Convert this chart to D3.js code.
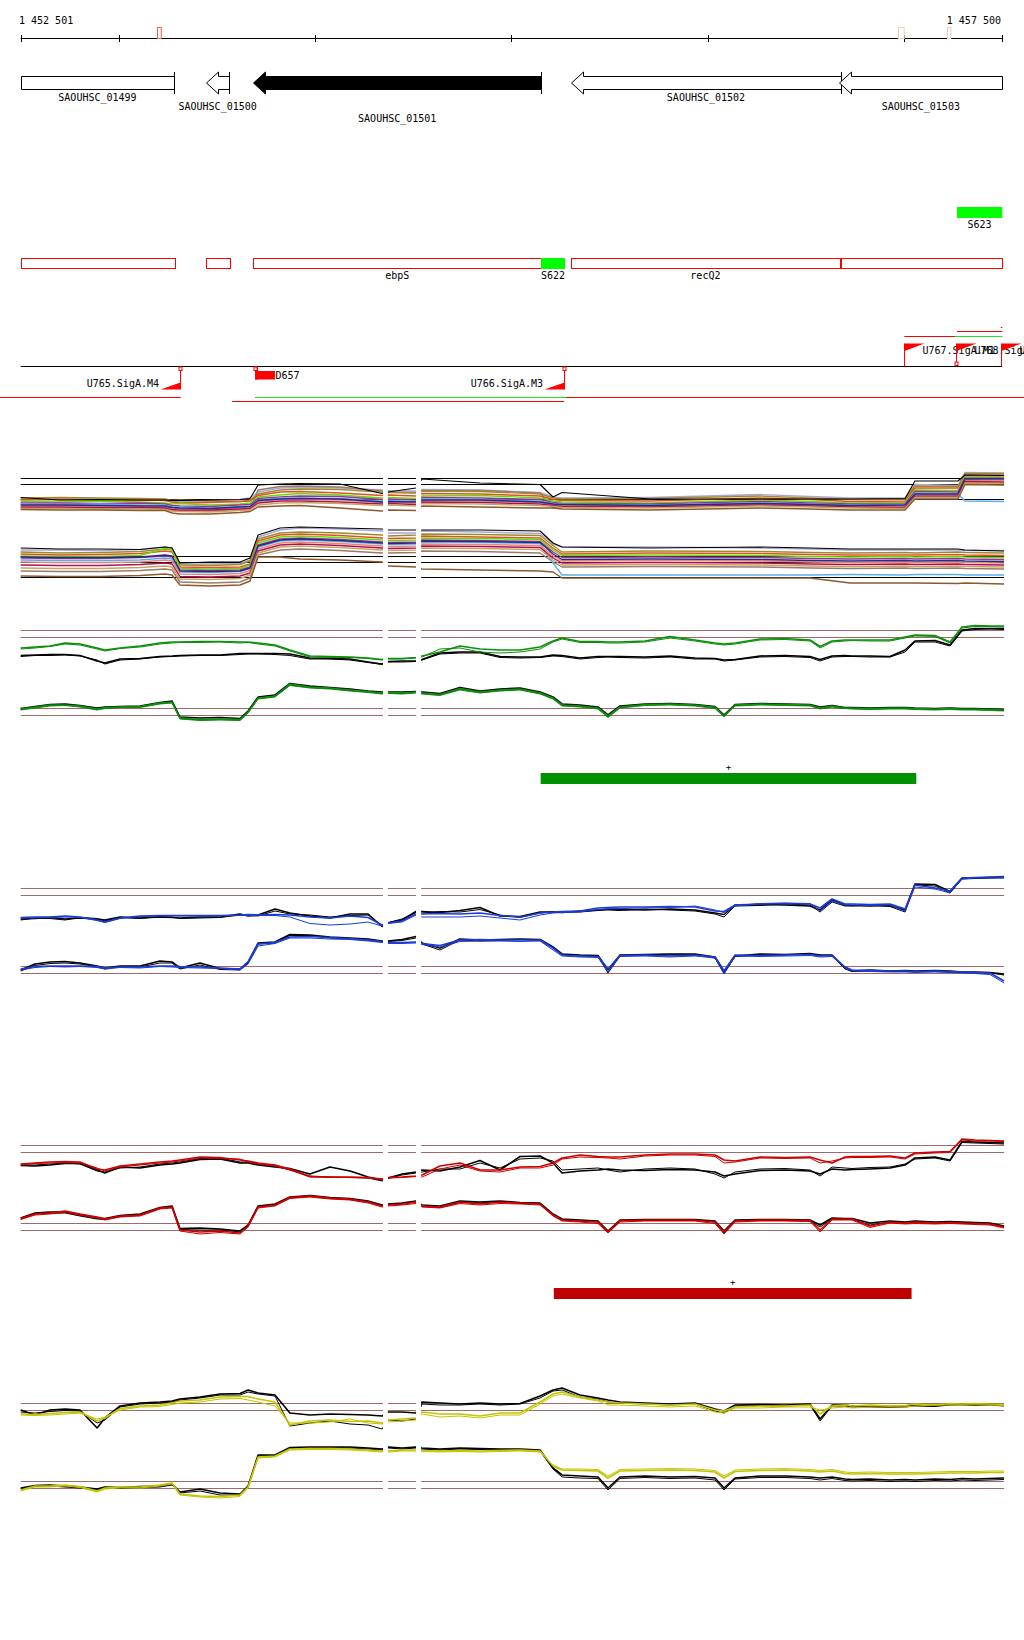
<!DOCTYPE html>
<html><head><meta charset="utf-8">
<script src="https://cdn.jsdelivr.net/npm/d3@7"></script>
<style>
body{margin:0;background:#fff}
svg{display:block}
text{font-family:"DejaVu Sans Mono",monospace;font-size:10px;fill:#000}
</style>
</head><body>
<svg id="chart" width="1024" height="1640"></svg>
<script>
// ---- region ----
const regionStart = 1452501, regionEnd = 1457500;
const rulerTicks = [1453000, 1454000, 1455000, 1456000, 1457000];
const rulerMarks = [
  {start: 1453197, end: 1453216, color: "#f0604a"},
  {start: 1456970, end: 1456999, color: "#f6c9bf"},
  {start: 1457217, end: 1457234, color: "#f6c9bf"}
];

// ---- annotated genes (all on the reverse strand) ----
const genes = [
  {name: "SAOUHSC_01499", start: 1452200, end: 1453283, fill: "#fff", labelRow: 0},
  {name: "SAOUHSC_01500", start: 1453445, end: 1453563, fill: "#fff", labelRow: 1},
  {name: "SAOUHSC_01501", start: 1453686, end: 1455151, fill: "#000", labelRow: 2},
  {name: "SAOUHSC_01502", start: 1455302, end: 1456680, fill: "#fff", labelRow: 0},
  {name: "SAOUHSC_01503", start: 1456670, end: 1457900, fill: "#fff", labelRow: 1}
];

// ---- transcription units and segments ----
const units = [
  {name: "", start: 1452200, end: 1453285},
  {name: "", start: 1453446, end: 1453565},
  {name: "ebpS", start: 1453686, end: 1455151},
  {name: "recQ2", start: 1455304, end: 1456672},
  {name: "", start: 1456680, end: 1457900}
];
const segments = [
  {name: "S622", start: 1455151, end: 1455273, row: 0},
  {name: "S623", start: 1457269, end: 1457900, row: 1}
];

// ---- promoters / transcription start sites ----
const sites = [
  {name: "U765.SigA.M4", pos: 1453312, strand: -1, kind: "flag", marker: true},
  {name: "D657", pos: 1453694, strand: -1, kind: "block", marker: true},
  {name: "U766.SigA.M3", pos: 1455269, strand: -1, kind: "flag", marker: true},
  {name: "U767.SigA.M1", pos: 1457001, strand: 1, kind: "flag", marker: false},
  {name: "U768.SigA.M1", pos: 1457264, strand: 1, kind: "flag", marker: true},
  {name: "U769.SigA.M2", pos: 1457492, strand: 1, kind: "flag", marker: false}
];
const transcripts = [
  {start: 1452396, end: 1453316, strand: -1, lane: 0, color: "#ff0000"},
  {start: 1453694, end: 1455278, strand: -1, lane: 0, color: "#22dd22"},
  {start: 1453577, end: 1455269, strand: -1, lane: 1, color: "#ff0000"},
  {start: 1455278, end: 1457611, strand: -1, lane: 0, color: "#ff0000"},
  {start: 1457001, end: 1457259, strand: 1, lane: 0, color: "#ff0000"},
  {start: 1457259, end: 1457500, strand: 1, lane: 0, color: "#22dd22"},
  {start: 1457269, end: 1457500, strand: 1, lane: 1, color: "#ff0000"},
  {start: 1457492, end: 1457500, strand: 1, lane: 2, color: "#ff0000"}
];

// ---- condition-specific up-regulated segments ----
const upSegGreen = {start: 1455149, end: 1457062, strand: "+"};
const upSegRed = {start: 1455216, end: 1457038, strand: "+"};

// ---- tiling gaps in the expression tracks ----
const tileGaps = [[1454346, 1454371], [1454514, 1454540]];

// ---- probe positions ----
const probePos = [1452501,1452574,1452650,1452727,1452803,1452890,1452930,1453007,1453109,1453210,
  1453272,1453312,1453414,1453516,1453618,1453659,1453710,1453796,1453872,1453974,
  1454076,1454178,1454270,1454341,1454372,1454443,1454514,1454545,1454636,1454738,
  1454840,1454942,1455044,1455146,1455212,1455258,1455349,1455441,1455492,1455553,
  1455680,1455808,1455935,1456037,1456083,1456139,1456266,1456393,1456521,1456572,
  1456633,1456699,1456735,1456826,1456928,1457005,1457055,1457157,1457234,1457295,
  1457361,1457437,1457509];
const probePosAll = [1452501,1452701,1452905,1453109,1453236,1453272,1453312,1453465,1453618,1453669,
  1453710,1453822,1453923,1454127,1454341,1454372,1454514,1454545,1454840,1455146,
  1455212,1455258,1455706,1456266,1456521,1456724,1457005,1457055,1457274,1457310,1457509];

// ---- thresholds (log2 signal) ----
const refsAllTop = [7, 5.8, 2.8];
const refsAllBottom = [3.5, 2.2, -0.8];
const refsTop = [7, 5.55];
const refsBottom = [3.5, 2.1];

// ---- all conditions, + strand ----
const allTopLevel = [3.1,2.6,2.7,2.6,2.6,2.5,2.5,2.6,2.7,2.9,5.6,5.8,5.9,5.8,3.9,4.2,5.0,6.8,6.0,5.7,3.2,4.1,2.8,2.8,2.8,2.8,2.9,6.4,6.4,7.6,7.5];
const allTop = [
  [2.8,2.9,2.8,2.7,2.6,2.4,2.3,2.5,2.7,3.0,4.2,5.0,5.1,5.0,4.6,4.5,4.4,4.7,4.6,4.1,3.2,3.0,3.1,3.7,3.3,3.0,3.0,5.7,5.5,8.1,8.0],
  [1.0,1.1,0.9,1.0,1.0,0.5,0.4,0.4,0.7,0.8,4.6,5.3,5.4,5.2,4.4,4.2,4.1,4.5,4.5,4.0,1.0,1.4,1.5,2.0,1.6,1.4,1.4,3.2,3.2,6.1,6.0],
  [3.0,3.1,3.0,2.9,2.8,2.5,2.6,2.4,2.3,2.6,3.8,4.6,4.8,4.7,4.2,4.1,4.0,4.4,4.3,3.8,3.0,2.8,2.9,3.4,3.0,2.7,2.8,5.4,5.3,7.9,7.9],
  [2.6,2.7,2.5,2.6,2.5,2.2,2.0,2.1,2.3,2.4,3.5,4.2,4.3,4.0,3.5,3.6,3.4,3.9,3.8,3.4,2.7,2.5,2.4,3.0,2.7,2.3,2.4,5.0,5.0,7.6,7.6],
  [2.3,2.2,2.4,2.2,2.0,1.8,1.9,1.6,1.8,2.0,3.2,3.6,3.9,3.6,3.0,3.1,2.9,3.4,3.5,3.0,2.4,2.2,2.0,2.6,2.3,2.0,2.1,4.6,4.5,7.4,7.3],
  [2.0,2.0,1.9,2.0,1.8,1.5,1.4,1.3,1.6,1.7,2.9,3.2,3.4,3.3,2.7,2.8,2.6,3.1,3.0,2.7,2.1,1.9,1.8,2.3,2.0,1.8,1.8,4.3,4.2,7.0,7.0],
  [1.8,1.7,1.8,1.6,1.6,1.2,1.2,1.0,1.3,1.4,2.6,3.0,3.0,2.9,2.4,2.5,2.3,2.8,2.7,2.4,1.9,1.8,1.6,2.0,1.8,1.6,1.5,4.0,3.9,2.4,2.3],
  [1.5,1.5,1.4,1.5,1.3,1.0,0.9,0.8,1.0,1.1,2.3,2.7,2.7,2.6,2.1,2.2,2.0,2.5,2.4,2.1,1.7,1.5,1.4,1.8,1.6,1.4,1.3,3.7,3.7,6.6,6.5],
  [1.2,1.2,1.1,1.1,1.0,0.7,0.6,0.6,0.8,0.9,2.0,2.4,2.4,2.2,1.8,1.9,1.7,2.2,2.1,1.8,1.5,1.3,1.2,1.6,1.4,1.2,1.1,3.4,3.4,6.3,6.2],
  [0.9,0.9,0.8,0.8,0.7,0.4,0.3,0.2,0.5,0.6,1.6,2.0,2.1,1.9,1.5,1.6,1.4,1.9,1.8,1.5,1.3,1.1,1.0,1.4,1.2,1.0,0.9,3.1,3.1,6.0,5.9],
  [0.7,0.6,0.6,0.5,0.5,0.0,-0.2,-0.2,0.1,0.3,1.2,1.4,1.5,1.0,0.4,0.6,0.5,1.4,1.2,1.0,1.0,0.8,0.6,1.0,0.8,0.6,0.6,2.8,2.8,5.7,5.6],
  [1.6,1.6,1.5,1.4,1.4,1.1,1.0,0.9,1.2,1.3,2.5,2.8,2.9,2.8,2.2,2.3,2.2,2.6,2.6,2.2,1.8,1.7,1.5,1.9,1.7,1.5,1.6,3.8,3.8,6.8,6.8]
];
// ---- all conditions, - strand ----
const allBottomLevel = [5.0,4.8,4.8,4.7,5.2,5.0,2.0,2.2,2.2,3.0,7.6,9.0,9.2,9.0,8.8,8.6,8.6,8.6,8.6,8.4,6.0,5.2,5.0,5.2,5.0,4.8,4.8,4.8,4.8,4.6,4.4];
const allBottom = [
  [4.6,4.6,4.5,4.7,5.2,5.0,1.8,1.8,1.9,2.6,7.2,8.6,9.0,8.8,8.4,8.0,8.0,8.4,8.2,7.9,5.8,5.2,5.2,5.0,4.8,4.6,4.6,4.6,4.6,4.5,4.5],
  [0.4,0.3,0.3,0.5,0.8,0.6,-1.8,-2.0,-1.8,-1.0,3.6,4.6,4.8,4.5,4.0,4.0,4.1,4.4,4.3,4.0,2.2,1.2,1.3,1.2,1.0,0.9,1.0,0.9,1.0,0.9,0.8],
  [4.2,4.0,4.1,4.3,4.8,4.6,1.6,1.5,1.7,2.4,6.8,8.0,8.2,8.0,7.6,7.4,7.6,7.8,7.7,7.5,5.5,4.2,4.4,4.3,4.1,4.0,4.1,4.0,4.2,4.1,4.0],
  [3.8,3.6,3.7,3.9,4.4,4.2,1.2,1.1,1.2,1.8,6.4,7.6,7.8,7.5,7.0,6.9,7.0,7.4,7.2,7.0,5.0,3.8,4.0,3.9,3.7,3.6,3.6,3.6,3.7,3.6,3.5],
  [3.4,3.3,3.3,3.5,4.9,4.7,0.9,0.8,0.9,1.6,6.0,7.2,7.4,7.1,6.6,6.5,6.6,7.0,6.9,6.7,4.6,3.5,3.6,3.5,3.3,3.2,3.3,3.2,3.3,3.2,3.1],
  [3.0,2.9,2.9,3.1,3.4,3.2,0.6,0.5,0.6,1.2,5.6,6.8,7.0,6.7,6.2,6.1,6.2,6.6,6.5,6.3,4.2,3.1,3.2,3.1,2.9,2.8,2.9,2.8,2.9,2.8,2.7],
  [2.6,2.5,2.5,2.6,3.0,2.8,0.2,0.1,0.3,0.9,5.2,6.4,6.6,6.3,5.8,5.7,5.8,6.2,6.1,5.9,2.0,-0.4,-0.4,-0.4,-0.4,-0.3,-0.4,-0.3,-0.3,-0.4,-0.4],
  [2.2,2.1,2.1,2.2,2.6,2.4,-0.2,-0.3,-0.1,0.5,4.8,6.0,6.2,5.9,5.4,5.3,5.4,5.8,5.7,5.5,3.4,2.4,2.5,2.4,2.2,2.1,2.2,2.1,2.2,2.1,2.0],
  [1.6,1.5,1.5,1.7,2.0,1.8,-0.7,-0.8,-0.6,0.0,4.4,5.6,5.8,5.5,5.0,4.9,5.0,5.4,5.3,5.1,3.0,2.0,2.1,2.0,1.8,1.7,1.8,1.7,1.8,1.7,1.6],
  [1.0,0.9,0.9,1.1,1.4,1.2,-1.2,-1.3,-1.1,-0.4,4.0,5.2,5.4,5.1,4.6,4.5,4.6,5.0,4.9,4.7,2.6,1.6,1.7,1.6,1.4,1.3,1.4,1.3,1.4,1.3,1.2],
  [-0.6,-0.7,-0.7,-0.5,-0.2,-0.4,-2.4,-2.6,-2.4,-1.6,3.2,3.2,2.8,2.6,2.2,1.4,1.2,0.8,0.6,0.4,0.2,-1.0,-1.0,-1.0,-1.0,-2.0,-2.0,-2.0,-2.1,-2.0,-2.2],
  [3.2,3.1,3.1,3.2,3.6,3.4,0.4,0.3,0.4,1.0,5.4,6.6,6.8,6.5,6.0,5.9,6.0,6.4,6.3,6.1,3.8,2.7,2.8,2.7,2.5,2.4,2.5,2.4,2.5,2.4,2.3]
];
const allColors = ["#a8a8dc","#9a7a6a","#a08a2a","#e0502a","#66dd00","#993399","#5aaef0","#e8886e","#b0105a","#c8a462","#8a5a2a","#2a2a80"];

// ---- condition 1 (green) ----
const c1TopA = [3.4,3.6,3.8,4.4,4.2,3.4,3.0,3.4,3.8,4.4,4.6,4.6,4.7,4.7,4.6,4.6,4.4,4.0,3.0,1.8,1.7,1.6,1.4,1.1,1.3,1.3,1.5,1.8,2.6,3.8,3.2,3.0,3.0,3.6,4.8,5.4,4.7,4.7,4.6,4.6,4.8,5.7,5.0,4.4,4.2,4.4,5.2,5.3,5.0,3.7,4.8,5.0,5.0,5.0,5.0,5.6,6.0,5.9,4.6,7.6,7.9,7.8,7.8];
const c1TopB = [3.2,3.4,3.7,4.2,4.0,3.2,2.8,3.3,3.6,4.2,4.4,4.5,4.5,4.6,4.4,4.5,4.2,3.8,2.8,1.6,1.5,1.5,1.3,1.0,1.2,1.2,1.4,1.6,3.2,3.4,2.6,2.4,2.6,3.2,4.6,5.2,4.5,4.5,4.4,4.4,4.6,5.4,4.8,4.2,4.0,4.2,5.0,5.1,4.8,3.4,4.6,4.8,4.9,4.8,4.8,5.4,5.8,5.7,4.4,7.4,7.7,7.7,7.6];
const c1TopRefA = [1.9,2.0,2.1,2.1,1.9,0.8,0.4,1.2,1.3,1.7,1.8,1.9,2.0,2.0,2.3,2.3,2.3,2.3,2.2,1.4,1.3,1.2,0.6,0.2,0.7,0.8,0.8,1.1,2.4,2.6,2.6,1.7,1.6,1.6,2.0,1.9,1.4,1.7,1.7,1.7,1.6,1.8,1.4,1.3,1.0,1.1,1.8,1.9,1.7,1.1,1.8,1.9,1.8,1.8,1.7,3.0,4.8,4.9,4.0,7.0,7.3,7.3,7.3];
const c1TopRefB = [1.7,1.9,1.9,2.0,1.8,1.0,0.2,1.0,1.2,1.6,1.7,1.8,1.9,1.9,2.1,2.2,2.2,2.1,1.9,1.2,1.2,1.0,0.5,0.1,0.6,0.6,0.7,1.0,2.2,2.4,2.4,1.5,1.4,1.5,1.8,1.7,1.2,1.5,1.6,1.5,1.4,1.6,1.2,1.2,0.8,1.0,1.6,1.7,1.5,0.8,1.6,1.7,1.7,1.6,1.6,2.6,4.6,4.6,3.8,6.8,7.1,7.2,7.1];
const c1BotA = [3.2,3.6,4.0,4.0,3.8,3.2,3.5,3.6,3.7,4.4,4.6,1.4,1.1,1.2,1.1,2.6,5.4,5.8,8.2,7.6,7.4,7.0,6.7,6.4,6.5,6.4,6.6,6.4,6.1,7.3,6.6,7.0,7.2,6.4,5.4,4.0,3.8,3.4,1.8,3.6,4.1,4.2,4.0,3.6,1.8,4.0,4.2,4.1,4.0,3.4,3.8,3.4,3.4,3.3,3.4,3.4,3.3,3.2,3.3,3.2,3.2,3.1,3.0];
const c1BotB = [3.0,3.4,3.8,3.9,3.6,3.0,3.3,3.5,3.5,4.2,4.4,1.2,0.9,1.0,0.9,2.4,5.2,5.6,7.9,7.4,7.2,6.8,6.5,6.2,6.3,6.2,6.4,6.2,5.9,7.0,6.4,6.8,7.0,6.2,5.2,3.8,3.6,3.2,1.5,3.4,3.9,4.0,3.8,3.3,1.6,3.8,4.0,3.9,3.8,3.2,3.6,3.3,3.2,3.1,3.2,3.2,3.1,3.0,3.1,3.0,3.0,2.9,2.8];
const c1BotRefA = [3.3,3.7,4.1,4.2,3.9,3.4,3.6,3.7,3.8,4.5,4.8,1.6,1.4,1.5,1.3,2.8,5.6,6.0,8.3,7.8,7.5,7.2,6.8,6.6,6.6,6.6,6.7,6.6,6.3,7.5,6.8,7.2,7.4,6.6,5.6,4.2,4.0,3.6,2.0,3.8,4.2,4.3,4.1,3.7,2.0,4.1,4.3,4.2,4.1,3.6,3.9,3.5,3.5,3.4,3.5,3.5,3.4,3.3,3.4,3.3,3.3,3.2,3.1];
const c1BotRefB = [3.1,3.5,3.9,4.0,3.7,3.1,3.4,3.5,3.6,4.3,4.5,1.3,1.0,1.1,1.0,2.5,5.3,5.7,8.0,7.5,7.3,6.9,6.6,6.3,6.4,6.3,6.5,6.3,6.0,7.2,6.5,6.9,7.1,6.3,5.3,3.9,3.7,3.3,1.6,3.5,4.0,4.1,3.9,3.5,1.7,3.9,4.1,4.0,3.9,3.3,3.7,3.3,3.3,3.2,3.3,3.3,3.2,3.1,3.2,3.1,3.1,3.0,2.9];

// ---- condition 2 (blue) ----
const c2TopA = [1.1,1.2,1.2,1.4,1.2,0.6,0.2,1.0,1.4,1.5,1.5,1.5,1.5,1.5,1.6,1.7,1.6,1.7,1.6,1.2,1.0,1.4,1.1,-0.4,0.0,0.4,1.8,1.8,1.9,1.8,2.0,1.5,1.2,2.0,2.2,2.3,2.4,3.0,3.1,3.2,3.2,3.3,3.2,2.4,2.3,3.6,3.8,3.9,3.8,3.0,4.8,3.8,3.8,3.7,3.8,2.8,7.6,7.0,6.4,9.0,9.1,9.2,9.3];
const c2TopB = [1.0,1.0,1.1,1.2,1.1,0.5,0.1,0.9,1.3,1.4,1.4,1.4,1.4,1.4,1.5,1.5,1.5,1.5,1.2,-0.1,-0.4,-0.2,0.2,-0.6,-0.1,0.2,1.6,1.2,1.2,1.2,1.4,1.0,0.6,1.6,2.0,2.1,2.2,2.7,2.8,2.9,3.0,3.1,3.4,2.6,2.1,3.4,3.9,4.0,3.9,2.4,4.4,3.6,3.6,3.5,3.6,2.4,7.2,6.8,6.0,8.8,9.0,9.0,9.1];
const c2TopRefA = [0.8,0.9,1.1,0.8,1.0,0.8,0.6,1.2,1.0,1.2,1.1,1.0,1.2,1.2,1.8,1.4,1.6,2.8,2.0,1.4,1.0,1.8,1.8,-0.7,0.0,0.6,2.3,2.3,2.1,2.5,3.1,1.4,1.3,2.2,2.2,2.1,2.4,2.6,2.8,2.7,2.6,2.8,2.6,2.0,1.7,3.6,3.7,3.6,3.4,2.6,4.6,3.6,3.5,3.4,3.5,2.6,7.8,7.7,6.3,9.0,9.0,9.1,9.2];
const c2TopRefB = [0.6,1.0,0.9,0.6,1.1,0.9,0.4,1.1,0.9,1.3,1.2,0.9,1.0,1.1,1.6,1.5,1.4,2.4,1.8,1.6,1.2,1.5,1.6,-0.5,0.1,0.8,2.1,2.0,2.3,2.2,2.7,1.6,1.1,2.0,2.3,2.2,2.2,2.5,2.6,2.5,2.8,2.6,2.4,1.8,1.2,3.4,3.5,3.8,3.6,2.2,4.2,3.4,3.4,3.6,3.3,2.2,7.6,7.4,6.0,8.8,8.9,9.0,9.0];
const c2BotA = [2.8,3.3,3.4,3.4,3.4,3.3,3.0,3.2,3.2,3.4,3.4,3.3,3.2,3.0,2.8,4.2,7.8,8.1,9.2,9.3,9.1,8.9,8.6,8.3,8.1,8.1,8.2,7.9,7.5,8.6,8.7,8.6,8.6,8.6,7.0,5.6,5.4,5.3,2.8,5.5,5.6,5.4,5.6,5.2,2.4,5.6,5.5,5.6,5.7,5.4,5.5,3.2,2.6,2.5,2.4,2.4,2.3,2.4,2.3,2.2,2.1,2.0,0.4];
const c2BotB = [2.6,3.1,3.3,3.2,3.3,3.1,2.8,3.1,3.0,3.3,3.2,3.1,3.0,2.9,2.6,3.8,7.4,7.9,9.0,9.0,8.8,8.7,8.4,8.1,7.9,7.9,8.0,7.7,7.2,8.3,8.4,8.4,8.3,8.4,6.6,5.4,5.2,5.1,2.2,5.3,5.4,5.2,5.4,5.0,1.8,5.4,5.3,5.4,5.5,5.2,5.3,3.0,2.4,2.3,2.2,2.2,2.1,2.2,2.1,2.0,1.9,1.7,0.0];
const c2BotRefA = [2.6,3.8,4.2,4.3,4.0,3.4,3.0,3.4,3.4,4.4,4.2,3.0,4.0,2.9,2.8,4.2,8.0,8.2,9.7,9.6,9.2,9.0,8.8,8.4,8.4,8.7,9.3,8.0,7.0,8.8,8.6,8.7,8.8,8.7,7.2,5.8,5.6,5.5,2.6,5.6,5.7,5.8,5.8,5.2,2.3,5.4,5.8,5.7,5.9,5.6,5.6,3.0,2.4,2.6,2.4,2.5,2.4,2.5,2.4,2.2,2.2,2.1,1.8];
const c2BotRefB = [2.4,3.5,3.9,4.0,3.8,3.2,2.8,3.3,3.2,4.0,4.0,2.8,3.6,2.7,2.6,4.0,7.8,8.0,9.5,9.5,9.0,8.8,8.6,8.2,8.3,8.5,9.0,7.8,6.6,8.6,8.4,8.5,8.7,8.5,7.0,5.7,5.4,5.4,2.0,5.4,5.6,5.6,5.7,5.0,1.9,5.3,5.6,5.6,5.8,5.5,5.4,2.8,2.3,2.4,2.3,2.3,2.3,2.3,2.2,2.1,2.0,2.0,1.6];

// ---- condition 3 (red) ----
const c3TopA = [3.2,3.4,3.6,3.7,3.6,2.2,2.0,2.8,3.2,3.6,3.8,4.0,4.6,4.5,4.0,3.8,3.4,3.0,2.2,0.7,0.6,0.6,0.5,0.2,0.5,0.6,0.8,1.0,2.8,3.4,2.0,2.0,2.6,2.7,3.4,4.4,5.0,4.7,4.6,4.6,5.0,5.2,5.2,5.0,4.0,3.8,4.6,4.5,4.6,4.0,3.4,4.6,4.7,4.7,4.8,4.4,5.4,5.6,5.7,8.2,8.0,7.9,7.8];
const c3TopB = [3.0,3.3,3.4,3.5,3.4,2.4,1.8,2.6,3.0,3.4,3.6,3.8,4.4,4.3,4.2,3.6,3.2,2.8,2.0,0.6,0.5,0.5,0.4,0.1,0.4,0.5,0.7,0.6,2.2,3.0,1.8,1.6,2.4,2.4,3.0,4.2,4.6,4.5,4.4,4.2,4.8,5.0,5.0,4.7,3.4,3.6,4.4,4.3,4.4,3.4,3.8,4.4,4.5,4.5,4.6,4.2,5.2,5.4,5.5,8.0,7.8,7.8,7.7];
const c3TopRefA = [2.9,2.8,3.0,3.3,3.3,2.0,1.4,2.6,2.4,3.0,3.2,3.4,4.1,4.2,3.4,3.4,3.0,2.6,2.3,1.2,2.6,1.8,0.6,0.0,0.4,1.2,1.6,2.0,1.8,2.6,3.9,2.0,4.7,4.8,3.4,1.4,1.8,2.0,2.2,2.0,1.9,2.1,2.0,1.6,0.8,1.2,1.9,2.0,1.8,1.2,2.2,2.0,2.1,2.2,2.4,3.0,4.4,4.6,4.0,7.7,7.6,7.5,7.4];
const c3TopRefB = [3.0,3.0,3.2,3.4,3.2,1.8,1.6,2.4,2.6,3.2,3.4,3.6,4.3,4.4,3.6,3.6,3.2,2.8,2.0,0.8,0.6,0.5,0.4,-0.2,0.3,1.0,1.4,1.6,2.2,2.2,3.4,2.4,4.2,4.4,3.8,2.0,2.2,2.4,2.0,1.6,2.2,2.4,2.2,1.2,0.4,1.6,2.2,2.3,2.0,0.8,2.6,2.4,2.3,2.5,2.6,3.2,4.2,4.4,3.8,7.5,7.4,7.3,7.2];
const c3BotA = [4.3,5.2,5.4,5.8,5.2,4.6,4.2,4.8,5.0,6.4,6.6,2.0,1.6,1.8,1.4,2.8,6.6,7.0,8.5,8.8,8.4,8.2,7.6,6.8,7.0,7.2,7.6,6.8,6.6,7.6,7.2,7.6,7.4,7.2,5.0,4.0,3.8,3.6,1.6,3.9,4.0,4.0,4.0,3.6,1.6,3.8,4.0,4.0,3.9,2.0,4.2,4.2,4.2,2.8,3.6,3.4,3.6,3.4,3.5,3.4,3.3,3.2,2.6];
const c3BotB = [4.1,5.0,5.2,5.5,5.0,4.4,4.0,4.6,4.8,6.2,6.4,1.8,1.2,1.5,1.2,2.6,6.4,6.8,8.3,8.6,8.2,8.0,7.4,6.6,6.8,7.0,7.3,6.6,6.4,7.3,7.0,7.3,7.2,7.0,4.8,3.8,3.6,3.3,1.4,3.6,3.8,3.8,3.8,3.3,1.2,3.6,3.8,3.8,3.7,1.6,4.0,4.0,4.0,2.5,3.4,3.2,3.3,3.2,3.3,3.2,3.1,3.0,2.4];
const c3BotRefA = [4.4,5.4,5.6,5.6,5.0,4.4,4.3,4.9,5.2,6.5,6.8,2.3,2.4,2.2,1.8,3.0,6.8,7.2,8.6,8.9,8.5,8.3,7.8,7.0,7.2,7.4,7.8,7.0,6.8,7.8,7.6,7.8,7.5,7.4,5.2,4.2,4.0,3.8,1.8,4.0,4.1,4.1,4.1,3.8,1.8,4.0,4.1,4.1,4.0,3.0,4.4,4.3,4.3,3.4,3.8,3.6,3.8,3.6,3.7,3.6,3.5,3.4,2.8];
const c3BotRefB = [4.2,5.2,5.4,5.4,4.8,4.2,4.1,4.7,5.0,6.3,6.6,2.1,2.0,2.0,1.6,2.8,6.6,7.0,8.4,8.7,8.3,8.1,7.6,6.9,7.1,7.2,7.6,6.7,6.5,7.5,7.4,7.6,7.3,7.2,5.0,4.0,3.8,3.6,1.4,3.8,3.9,3.9,3.9,3.6,1.4,3.8,3.9,3.9,3.8,2.6,4.2,4.1,4.1,3.0,3.6,3.4,3.6,3.4,3.5,3.4,3.3,3.2,2.6];

// ---- condition 4 (yellow) ----
const c4TopA = [4.8,4.7,4.9,5.1,5.2,3.4,4.0,5.9,6.4,6.6,7.0,7.4,7.6,8.2,8.3,8.3,7.8,7.2,2.6,3.4,3.6,3.3,3.4,3.0,3.6,3.8,4.0,5.2,4.8,4.8,4.4,5.0,5.0,7.2,8.8,9.2,8.2,7.6,7.2,7.0,6.8,6.6,6.8,5.6,5.4,6.2,6.4,6.4,6.6,4.8,6.4,6.6,6.4,6.6,6.4,6.5,6.8,6.6,6.9,6.8,6.9,6.8,6.7];
const c4TopB = [4.6,4.5,4.6,4.8,5.0,3.8,4.2,5.6,6.2,6.3,6.7,7.0,7.2,7.8,7.9,7.6,7.2,6.4,3.0,3.0,3.2,3.8,3.0,2.8,3.2,3.4,3.6,4.8,4.2,4.4,4.0,4.6,4.6,6.8,8.4,8.8,8.0,7.4,6.6,6.6,6.4,6.2,6.4,5.2,5.0,6.0,6.0,6.2,6.2,5.6,6.0,6.2,6.0,6.2,6.2,6.2,6.4,6.6,6.6,6.6,6.6,6.6,6.5];
const c4TopRefA = [5.6,4.6,5.6,5.8,5.6,2.0,4.0,6.4,7.0,7.2,7.4,7.8,8.2,8.8,8.9,9.6,9.0,8.6,5.0,4.6,4.8,4.7,4.6,4.4,5.2,5.2,5.0,7.2,7.0,6.8,7.0,6.8,6.9,8.4,9.6,10.0,8.6,8.0,7.6,7.2,7.0,6.8,7.0,5.8,5.4,6.6,6.7,6.6,6.8,3.8,6.6,6.6,6.4,6.4,6.3,6.4,6.6,6.5,6.8,6.8,6.7,6.8,6.6];
const c4TopRefB = [5.2,5.0,5.3,5.5,5.4,3.0,3.6,6.2,6.8,7.0,7.2,7.6,8.0,8.6,8.6,9.2,8.8,8.4,2.4,3.0,3.4,2.8,2.6,1.8,3.6,3.4,3.8,6.8,6.6,6.6,6.8,6.6,6.8,8.0,9.4,9.6,8.2,7.8,7.2,7.0,6.8,6.6,6.8,5.4,5.0,6.4,6.5,6.4,6.6,3.4,6.4,6.4,6.2,6.2,6.1,6.2,6.4,6.3,6.6,6.6,6.5,6.6,6.4];
const c4BotA = [1.6,2.4,2.4,2.6,2.3,1.4,2.0,2.2,2.2,2.6,3.0,0.8,0.4,0.3,0.6,2.2,8.2,8.4,9.8,9.9,9.9,9.8,9.6,9.4,9.4,9.6,9.6,9.5,9.4,9.5,9.4,9.5,9.6,9.4,6.4,5.6,5.5,5.4,4.0,5.4,5.5,5.6,5.5,5.2,4.0,5.3,5.5,5.6,5.4,5.2,5.4,4.9,4.8,4.9,4.8,4.8,4.8,4.9,5.0,5.0,5.0,5.1,5.1];
const c4BotB = [1.4,2.2,2.2,2.4,2.1,1.2,1.8,2.0,2.0,2.4,2.8,0.6,0.2,0.0,0.3,2.0,8.0,8.2,9.6,9.7,9.7,9.6,9.4,9.2,9.2,9.4,9.4,9.3,9.2,9.3,9.2,9.3,9.4,9.2,6.6,5.8,5.8,5.7,4.4,5.7,5.8,5.9,5.8,5.5,4.4,5.6,5.8,5.9,5.7,5.5,5.7,5.2,5.1,5.2,5.1,5.1,5.1,5.2,5.3,5.3,5.3,5.4,5.4];
const c4BotRefA = [2.0,2.5,2.6,2.4,2.2,1.8,2.2,2.1,2.3,2.4,2.8,1.2,1.8,1.0,0.8,2.4,8.6,8.6,10.1,10.2,10.2,10.2,10.0,9.8,10.2,10.0,10.2,10.0,9.8,10.0,9.9,9.8,9.8,9.6,6.0,4.6,4.4,4.2,2.0,4.2,4.4,4.2,4.3,4.0,2.0,4.0,4.4,4.4,4.2,4.0,4.2,3.8,3.7,3.8,3.6,3.7,3.6,3.8,3.7,3.9,3.8,3.9,4.0];
const c4BotRefB = [1.8,2.3,2.4,2.2,2.0,1.6,2.0,1.9,2.1,2.2,2.6,1.0,1.4,0.6,0.6,2.2,8.4,8.5,9.9,10.0,10.0,10.0,9.8,9.6,10.0,9.8,10.0,9.8,9.6,9.8,9.7,9.6,9.6,9.4,5.8,4.2,4.0,3.9,1.6,3.9,4.1,3.9,4.0,3.6,1.6,3.8,4.1,4.1,3.9,3.6,3.9,3.5,3.4,3.5,3.3,3.4,3.3,3.5,3.4,3.6,3.5,3.6,3.7];

// ================= drawing =================
const svg = d3.select("#chart");
const x = d3.scaleLinear().domain([regionStart, regionEnd]).range([20.7, 1002.3]);
const clipX = v => x(Math.max(regionStart, Math.min(regionEnd, v)));
const fmt = d3.formatLocale({decimal: ".", thousands: " ", grouping: [3], currency: ["", ""]}).format(",");

// ruler
const ruler = svg.append("g");
ruler.append("line").attr("x1", x(regionStart)).attr("x2", x(regionEnd))
  .attr("y1", 38.5).attr("y2", 38.5).attr("stroke", "#000");
ruler.selectAll("line.tick").data([regionStart, ...rulerTicks, regionEnd]).join("line")
  .attr("class", "tick")
  .attr("x1", d => Math.round(x(d)) + 0.5).attr("x2", d => Math.round(x(d)) + 0.5)
  .attr("y1", 35).attr("y2", 42).attr("stroke", "#000");
ruler.selectAll("rect").data(rulerMarks).join("rect")
  .attr("x", d => Math.round(x(d.start)) + 0.5).attr("y", 27.5)
  .attr("width", d => Math.max(3, x(d.end) - x(d.start))).attr("height", 11)
  .attr("fill", "#fff").attr("stroke", d => d.color);
ruler.append("text").attr("x", 19).attr("y", 23.5).text(fmt(regionStart));
ruler.append("text").attr("x", 1001).attr("y", 23.5).attr("text-anchor", "end").text(fmt(regionEnd));

// genes
const geneG = svg.append("g");
const cy = 83, bodyH = 6.5, headH = 11, headW = 12;
const labelRowY = [97, 106, 118];
genes.forEach(g => {
  const hasHead = g.start >= regionStart, hasEnd = g.end <= regionEnd;
  const x0 = Math.round(clipX(g.start)) + 0.5, x1 = Math.round(clipX(g.end)) + 0.5;
  let d;
  if (hasHead) {
    d = `M${x0},${cy} L${x0 + headW},${cy - headH} L${x0 + headW},${cy - bodyH} L${x1},${cy - bodyH} L${x1},${cy + bodyH} L${x0 + headW},${cy + bodyH} L${x0 + headW},${cy + headH} Z`;
  } else {
    d = `M${x0},${cy - bodyH} L${x1},${cy - bodyH} L${x1},${cy + bodyH} L${x0},${cy + bodyH} Z`;
  }
  geneG.append("path").attr("d", d).attr("fill", g.fill).attr("stroke", "#000");
  if (hasEnd) geneG.append("line").attr("x1", x1).attr("x2", x1).attr("y1", cy - headH).attr("y2", cy + headH).attr("stroke", "#000");
  geneG.append("text").attr("x", (clipX(g.start) + clipX(g.end)) / 2).attr("y", labelRowY[g.labelRow])
    .attr("dy", "0.35em").attr("text-anchor", "middle").text(g.name);
});

// transcription units and segments
const unitG = svg.append("g");
unitG.selectAll("rect").data(units).join("rect")
  .attr("x", d => Math.round(clipX(d.start)) + 0.5).attr("y", 258.5)
  .attr("width", d => Math.round(clipX(d.end)) - Math.round(clipX(d.start))).attr("height", 10)
  .attr("fill", "none").attr("stroke", "#ff0000");
unitG.selectAll("text").data(units.filter(d => d.name)).join("text")
  .attr("x", d => (clipX(d.start) + clipX(d.end)) / 2).attr("y", 275.3).attr("dy", "0.35em")
  .attr("text-anchor", "middle").text(d => d.name);
const segRowY = [258, 207];
segments.forEach(s => {
  unitG.append("rect").attr("x", clipX(s.start)).attr("y", segRowY[s.row])
    .attr("width", clipX(s.end) - clipX(s.start)).attr("height", 11).attr("fill", "#00ff00");
  unitG.append("text").attr("x", (clipX(s.start) + clipX(s.end)) / 2).attr("y", segRowY[s.row] + 17)
    .attr("dy", "0.35em").attr("text-anchor", "middle").text(s.name);
});

// promoter track
const tssG = svg.append("g");
const baseY = 366.5;
tssG.append("line").attr("x1", x(regionStart)).attr("x2", x(regionEnd)).attr("y1", baseY).attr("y2", baseY).attr("stroke", "#000");
const laneY = {"1": [336.5, 331.5, 327.5], "-1": [397.5, 401.5]};
transcripts.forEach(t => {
  const y = laneY[t.strand][t.lane];
  tssG.append("line").attr("x1", x(t.start)).attr("x2", x(t.end)).attr("y1", y).attr("y2", y)
    .attr("stroke", t.color).attr("stroke-width", 1.2);
});
const flagW = 20;
sites.forEach(s => {
  const px = Math.round(x(s.pos)) + 0.5;
  if (s.kind === "flag" && s.strand < 0) {
    tssG.append("line").attr("x1", px).attr("x2", px).attr("y1", baseY).attr("y2", 389.5).attr("stroke", "#f00");
    tssG.append("path").attr("d", `M${px},382.5 L${px},389.5 L${px - flagW},389.5 Z`).attr("fill", "#f00");
    tssG.append("text").attr("x", px - flagW - 1.5).attr("y", 383.3).attr("dy", "0.35em").attr("text-anchor", "end").text(s.name);
  } else if (s.kind === "flag") {
    tssG.append("line").attr("x1", px).attr("x2", px).attr("y1", 343.5).attr("y2", baseY).attr("stroke", "#f00");
    tssG.append("path").attr("d", `M${px},343.5 L${px + flagW},343.5 L${px},351 Z`).attr("fill", "#f00");
    tssG.append("text").attr("x", px + 18).attr("y", 350.3).attr("dy", "0.35em").text(s.name);
  } else {
    tssG.append("rect").attr("x", px - 0.5).attr("y", baseY).attr("width", 3).attr("height", 13).attr("fill", "#f00");
    tssG.append("rect").attr("x", px - 0.5).attr("y", 371).attr("width", 20).attr("height", 8.5).attr("fill", "#f00");
    tssG.append("text").attr("x", px + 20).attr("y", 375.7).attr("dy", "0.35em").text(s.name);
  }
  if (s.marker) {
    const my = s.strand < 0 ? baseY + 0.5 : baseY - 4.5;
    tssG.append("rect").attr("x", px - 1.5).attr("y", my).attr("width", 3).attr("height", 3.5)
      .attr("fill", "#fff").attr("stroke", "#f00");
  }
});

// expression tracks
const probeX = probePos.map(p => x(p));
const probeXAll = probePosAll.map(p => x(p));
const xLeft = probeX[0], xRight = probeX[probeX.length - 1];

function groupScale(top, offset) {
  return d3.scaleLinear().domain([0, 10]).range([top + offset, top + offset - 50]);
}
function drawRefs(g, yScale, refs, color) {
  g.selectAll(null).data(refs).join("line")
    .attr("x1", xLeft).attr("x2", xRight)
    .attr("y1", d => Math.round(yScale(d)) + 0.5).attr("y2", d => Math.round(yScale(d)) + 0.5)
    .attr("stroke", color).attr("stroke-width", 1);
}
function drawSeries(g, xs, yScale, values, color, width) {
  const line = d3.line().x((d, i) => xs[i]).y(d => yScale(d));
  g.append("path").attr("d", line(values)).attr("fill", "none")
    .attr("stroke", color).attr("stroke-width", width).attr("stroke-linejoin", "round");
}

const exprG = svg.append("g");

// all-conditions panel
const topAll = 478;
const yAllTop = groupScale(topAll, 35), yAllBot = groupScale(topAll, 95);
drawRefs(exprG, yAllTop, refsAllTop, "#000");
drawRefs(exprG, yAllBot, refsAllBottom, "#000");
allTop.forEach((v, i) => drawSeries(exprG, probeXAll, yAllTop, v, allColors[i], 1.4));
drawSeries(exprG, probeXAll, yAllTop, allTopLevel, "#000", 1.1);
allBottom.forEach((v, i) => drawSeries(exprG, probeXAll, yAllBot, v, allColors[i], 1.4));
drawSeries(exprG, probeXAll, yAllBot, allBottomLevel, "#000", 1.1);

// single-condition panels
const refColor = "#a06a6a";
const conditions = [
  {top: 630, color: "#0c900c", series: [c1TopA, c1TopB, c1TopRefA, c1TopRefB, c1BotA, c1BotB, c1BotRefA, c1BotRefB]},
  {top: 888, color: "#1c3cd8", series: [c2TopA, c2TopB, c2TopRefA, c2TopRefB, c2BotA, c2BotB, c2BotRefA, c2BotRefB]},
  {top: 1145, color: "#d00000", series: [c3TopA, c3TopB, c3TopRefA, c3TopRefB, c3BotA, c3BotB, c3BotRefA, c3BotRefB]},
  {top: 1403, color: "#c4c400", series: [c4TopA, c4TopB, c4TopRefA, c4TopRefB, c4BotA, c4BotB, c4BotRefA, c4BotRefB]}
];
conditions.forEach(c => {
  const yT = groupScale(c.top, 35), yB = groupScale(c.top, 95);
  drawRefs(exprG, yT, refsTop, refColor);
  drawRefs(exprG, yB, refsBottom, refColor);
  const s = c.series;
  drawSeries(exprG, probeX, yT, s[3], "#000", 1);
  drawSeries(exprG, probeX, yT, s[2], "#000", 1.6);
  drawSeries(exprG, probeX, yT, s[1], c.color, 1);
  drawSeries(exprG, probeX, yT, s[0], c.color, 1.6);
  drawSeries(exprG, probeX, yB, s[7], "#000", 1);
  drawSeries(exprG, probeX, yB, s[6], "#000", 1.6);
  drawSeries(exprG, probeX, yB, s[5], c.color, 1);
  drawSeries(exprG, probeX, yB, s[4], c.color, 1.6);
});

// tile gaps
exprG.selectAll("rect.gap").data(tileGaps).join("rect").attr("class", "gap")
  .attr("x", d => x(d[0])).attr("width", d => x(d[1]) - x(d[0]))
  .attr("y", 465).attr("height", 1040).attr("fill", "#fff");

// up-regulated segments
function drawUpSeg(seg, barY, color) {
  svg.append("rect").attr("x", x(seg.start)).attr("y", barY).attr("width", x(seg.end) - x(seg.start))
    .attr("height", 11).attr("fill", color);
  svg.append("text").attr("x", (x(seg.start) + x(seg.end)) / 2).attr("y", barY - 6.5).attr("dy", "0.35em")
    .attr("text-anchor", "middle").style("font-size", "9px").text(seg.strand);
}
drawUpSeg(upSegGreen, 773, "#009100");
drawUpSeg(upSegRed, 1288, "#c00000");
</script>
</body></html>
